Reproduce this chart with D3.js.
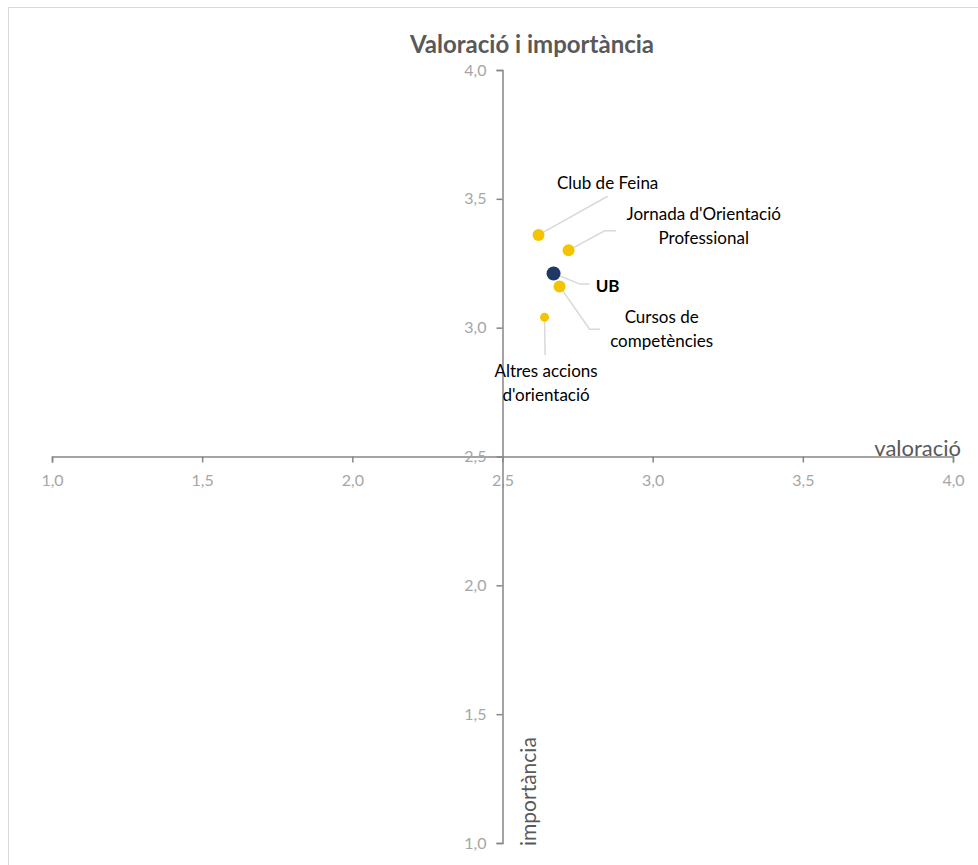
<!DOCTYPE html>
<html>
<head>
<meta charset="utf-8">
<script src="https://cdn.jsdelivr.net/npm/d3@7"></script>
<style>
  body { margin: 0; background: #fff; }
  text { font-family: Lato, "Open Sans", sans-serif; }
</style>
</head>
<body>
<svg id="chart" width="978" height="865"></svg>
<script>
const names = ['Club de Feina', "Jornada d'Orientació Professional", 'UB', 'Cursos de competències', "Altres accions d'orientació"];
const valoracio = [2.62, 2.72, 2.67, 2.69, 2.64];
const importancia = [3.36, 3.30, 3.21, 3.16, 3.04];
const ticks = [1.0, 1.5, 2.0, 2.5, 3.0, 3.5, 4.0];
// label lines and where each label sits, in data units
const labelLines = [['Club de Feina'], ["Jornada d'Orientació", 'Professional'], ['UB'], ['Cursos de', 'competències'], ['Altres accions', "d'orientació"]];
const labelAt = [[2.85, 3.56], [3.17, 3.44], [2.85, 3.16], [3.03, 3.04], [2.645, 2.83]];
const elbow = [[2.85, 3.51], [2.84, 3.376], [2.758, 3.169], [2.79, 2.994], [2.642, 2.894]];
const elbowEnd = [[2.85, 3.51], [2.878, 3.376], [2.79, 3.169], [2.825, 2.994], [2.642, 2.894]];

const svg = d3.select('#chart');
const x = d3.scaleLinear().domain([1, 4]).range([52, 953]);
const y = d3.scaleLinear().domain([1, 4]).range([843, 70]);
const fmt = d => d3.format('.1f')(d).replace('.', ',');

svg.append('rect')
  .attr('x', 8.5).attr('y', 7.5).attr('width', 990).attr('height', 880)
  .attr('fill', 'none').attr('stroke', '#d9d9d9');

svg.append('text')
  .attr('x', 532).attr('y', 53)
  .attr('text-anchor', 'middle')
  .attr('font-size', 24).attr('font-weight', 'bold')
  .attr('fill', '#595959')
  .text('Valoració i importància');

const xAxis = svg.append('g')
  .attr('transform', `translate(0,${y(2.5)})`)
  .call(d3.axisBottom(x).tickValues(ticks).tickFormat(fmt).tickSize(6).tickPadding(12));
const yAxis = svg.append('g')
  .attr('transform', `translate(${x(2.5)},0)`)
  .call(d3.axisLeft(y).tickValues(ticks).tickFormat(fmt).tickSize(6).tickPadding(10));

[xAxis, yAxis].forEach(a => {
  a.select('.domain').attr('stroke', '#868686').attr('stroke-width', 1.5);
  a.selectAll('.tick line').attr('stroke', '#868686').attr('stroke-width', 1.5);
  a.selectAll('.tick text').attr('fill', '#a6a6a6').attr('font-size', 16);
});

svg.append('text')
  .attr('x', 961).attr('y', y(2.5) - 1)
  .attr('text-anchor', 'end')
  .attr('font-size', 22).attr('fill', '#595959')
  .text('valoració');

svg.append('text')
  .attr('transform', `translate(${x(2.5) + 33},${y(1) + 3}) rotate(-90)`)
  .attr('font-size', 21).attr('fill', '#595959')
  .text('importància');

// leader lines
names.forEach((n, i) => {
  svg.append('polyline')
    .attr('points', [[x(valoracio[i]), y(importancia[i])], [x(elbow[i][0]), y(elbow[i][1])], [x(elbowEnd[i][0]), y(elbowEnd[i][1])]]
      .map(p => p.join(',')).join(' '))
    .attr('fill', 'none').attr('stroke', '#d9d9d9').attr('stroke-width', 1.5);
});

svg.selectAll('circle.pt')
  .data(names)
  .join('circle')
  .attr('class', 'pt')
  .attr('cx', (d, i) => x(valoracio[i]))
  .attr('cy', (d, i) => y(importancia[i]))
  .attr('r', d => d === 'UB' ? 7 : (d.startsWith('Altres') ? 4.5 : 6))
  .attr('fill', d => d === 'UB' ? '#1f3864' : '#f5c400');

names.forEach((n, i) => {
  const t = svg.append('text')
    .attr('text-anchor', 'middle')
    .attr('font-size', 17)
    .attr('font-weight', n === 'UB' ? 'bold' : 'normal')
    .attr('fill', '#000');
  labelLines[i].forEach((l, j) => {
    t.append('tspan')
      .attr('x', x(labelAt[i][0]))
      .attr('y', y(labelAt[i][1]) + 6 + j * 23.3)
      .text(l);
  });
});
</script>
</body>
</html>
